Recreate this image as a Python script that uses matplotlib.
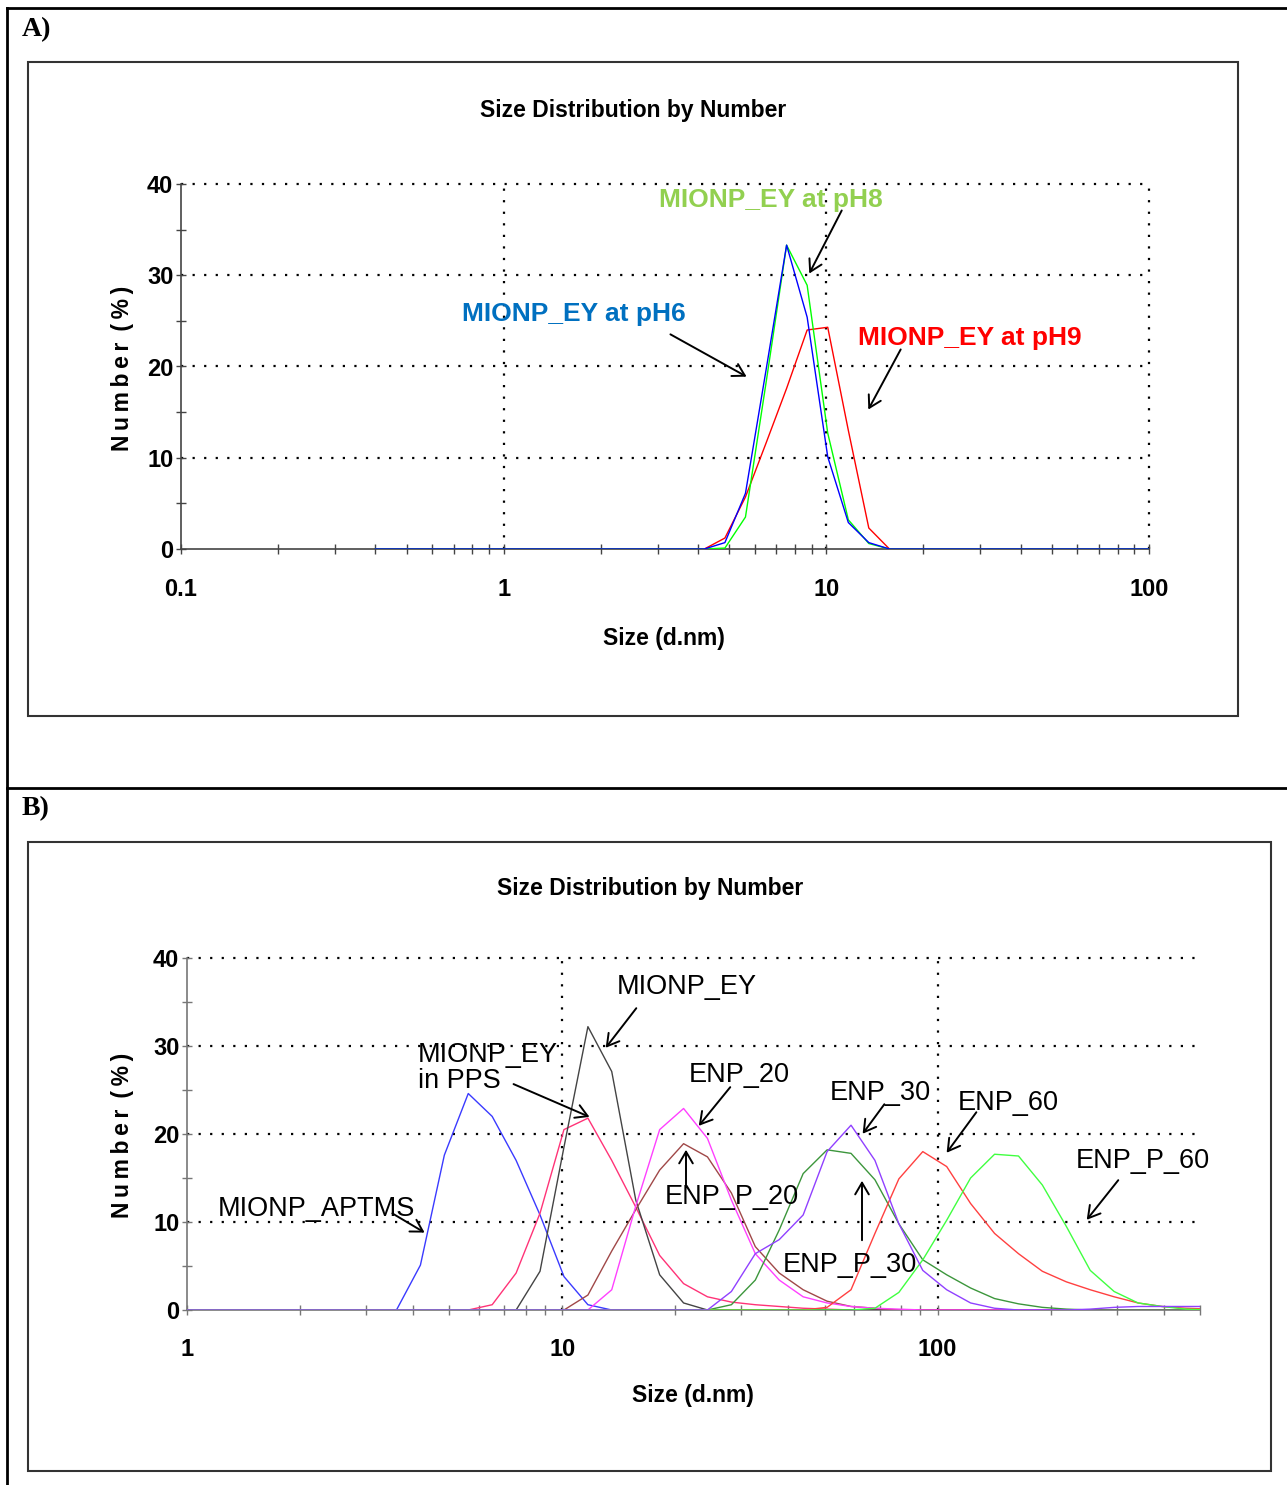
import matplotlib
matplotlib.use("Agg")
import matplotlib.pyplot as plt
from matplotlib.patches import FancyArrowPatch, Rectangle
from matplotlib.lines import Line2D
from matplotlib.ticker import FixedLocator, NullFormatter

# ---------------- data ----------------
# Malvern size bins (d.nm)
sizes = [0.4, 0.4632, 0.5365, 0.6213, 0.7195, 0.8332, 0.9649, 1.117, 1.294, 1.499,
         1.736, 2.010, 2.328, 2.696, 3.122, 3.615, 4.187, 4.849, 5.615, 6.503,
         7.531, 8.721, 10.10, 11.70, 13.54, 15.69, 18.17, 21.04, 24.36, 28.21,
         32.67, 37.84, 43.82, 50.75, 58.77, 68.06, 78.82, 91.28, 105.7, 122.4,
         141.8, 164.2, 190.1, 220.2, 255.0, 295.3, 342.0, 396.1, 458.7, 531.2]

Z17 = [0.0] * 17
# Panel A (bins 0.4 ... 531.2)
a_ph6 = Z17 + [0.7, 6.1, 19.6, 33.3, 25.4, 10.1, 2.9, 0.7] + [0.0] * 25
a_ph8 = Z17 + [0.1, 3.5, 18.2, 33.3, 28.9, 12.7, 3.2, 0.6] + [0.0] * 25
a_ph9 = Z17 + [1.2, 5.7, 11.6, 17.6, 24.0, 24.3, 13.0, 2.3] + [0.0] * 25

# Panel B
b_aptms = [0.0] * 16 + [5.1, 17.6, 24.6, 22.0, 17.0, 10.8, 3.8, 0.6] + [0.0] * 26
b_pps = [0.0] * 19 + [0.6, 4.2, 11.0, 20.5, 21.8, 17.0, 11.7, 6.2, 3.0, 1.5, 0.9,
                      0.6, 0.4, 0.2, 0.1] + [0.0] * 16
b_ey = [0.0] * 21 + [4.4, 18.5, 32.2, 27.1, 12.5, 4.0, 0.8] + [0.0] * 22
b_enp20 = [0.0] * 24 + [2.3, 11.8, 20.5, 22.9, 19.5, 12.5, 6.4, 3.4, 1.5, 0.8,
                        0.4, 0.2, 0.1] + [0.0] * 13
b_enpp20 = [0.0] * 23 + [1.7, 6.7, 11.4, 15.9, 18.9, 17.4, 13.3, 7.2, 4.2, 2.3,
                         1.0, 0.4, 0.2] + [0.0] * 14
b_enp30 = [0.0] * 29 + [2.1, 6.4, 8.0, 10.8, 18.0, 21.0, 17.0, 9.8, 4.5, 2.3,
                        0.8, 0.2, 0.0, 0.0, 0.0, 0.1, 0.3, 0.4, 0.4, 0.4, 0.4]
b_enpp30 = [0.0] * 29 + [0.6, 3.4, 9.1, 15.5, 18.2, 17.8, 14.8, 9.8, 5.7, 4.0,
                         2.5, 1.3, 0.7, 0.3, 0.1] + [0.0] * 6
b_enp60 = [0.0] * 33 + [0.3, 2.3, 8.7, 14.9, 18.0, 16.3, 12.1, 8.7, 6.4, 4.4,
                        3.2, 2.3, 1.5, 0.8, 0.4, 0.2, 0.1]
b_enpp60 = [0.0] * 35 + [0.2, 2.0, 5.7, 10.2, 15.0, 17.7, 17.5, 14.2, 9.5, 4.5,
                         2.1, 0.8, 0.4, 0.1, 0.0]

a_series = [(a_ph9, "#ff0000"), (a_ph8, "#00ff00"), (a_ph6, "#0000ff")]
b_series = [(b_aptms, "#3a3aff"), (b_pps, "#ff3377"), (b_ey, "#444444"),
            (b_enpp20, "#a04848"), (b_enp20, "#ff40ff"), (b_enpp30, "#3c963c"),
            (b_enp60, "#ff4040"), (b_enpp60, "#40ff40"), (b_enp30, "#9040ff")]

yticks = [0, 10, 20, 30, 40]

# ---------------- figure ----------------
W, H = 1287, 1485
fig = plt.figure(figsize=(W / 100, H / 100), dpi=100)
fig.patch.set_facecolor("white")
SANS = ["Liberation Sans", "DejaVu Sans"]
SERIF = ["Liberation Serif", "DejaVu Serif"]
DY = 2.5  # vertical text correction (px)


def fx(x):
    return x / W


def fy(y):
    return 1 - y / H


def ftext(x, y, s, **kw):
    kw.setdefault("family", SANS)
    fig.text(fx(x), fy(y + DY), s, **kw)


def arrow(x0, y0, x1, y1):
    fig.add_artist(FancyArrowPatch((fx(x0), fy(y0)), (fx(x1), fy(y1)),
                                   transform=fig.transFigure,
                                   arrowstyle="->,head_length=0.6,head_width=0.35",
                                   mutation_scale=14, lw=1.4, color="black"))


# outer table lines
for (xs, ys) in [((7, 7), (8, 1485)), ((7, 1287), (8, 8)), ((7, 1287), (788, 788))]:
    fig.add_artist(Line2D([fx(v) for v in xs], [fy(v) for v in ys],
                          transform=fig.transFigure, color="black", lw=2.0))

# inner frames
for (x0, y0, x1, y1) in [(28, 62, 1238, 716), (28, 842, 1271, 1471)]:
    fig.add_artist(Rectangle((fx(x0), fy(y1)), (x1 - x0) / W, (y1 - y0) / H,
                             transform=fig.transFigure, fill=False,
                             edgecolor="#333333", lw=1.5))

ftext(22, 27, "A)", family=SERIF, fontweight="bold", fontsize=20, va="center")
ftext(22, 806, "B)", family=SERIF, fontweight="bold", fontsize=20, va="center")


def setup_axes(rect_px, xlim, xmajor, xlabels, xminor, vgrid, spine_col, xpad):
    l, t, r, b = rect_px
    ax = fig.add_axes([fx(l), fy(b), (r - l) / W, (b - t) / H])
    ax.set_xscale("log")
    ax.set_xlim(*xlim)
    ax.set_ylim(0, 40)
    ax.set_facecolor("none")
    for s in ("top", "right"):
        ax.spines[s].set_visible(False)
    for s in ("left", "bottom"):
        ax.spines[s].set_color(spine_col)
        ax.spines[s].set_linewidth(1.2)
    ax.xaxis.set_major_locator(FixedLocator(xmajor))
    ax.set_xticklabels(xlabels)
    ax.xaxis.set_minor_locator(FixedLocator(xminor))
    ax.xaxis.set_minor_formatter(NullFormatter())
    ax.yaxis.set_major_locator(FixedLocator(yticks))
    ax.set_yticklabels([str(v) for v in yticks])
    ax.yaxis.set_minor_locator(FixedLocator([5, 15, 25, 35]))
    ax.tick_params(axis="both", which="both", direction="inout", length=7,
                   width=1.0, color=spine_col)
    ax.tick_params(axis="x", which="major", pad=xpad)
    ax.tick_params(axis="y", which="major", pad=2)
    for lab in ax.get_xticklabels() + ax.get_yticklabels():
        lab.set_fontfamily(SANS)
        lab.set_fontweight("bold")
        lab.set_fontsize(17)
    dot = dict(color="black", lw=1.6, linestyle=(0, (1, 4.2)), zorder=1, clip_on=False)
    for v in [10, 20, 30, 40]:
        ax.axhline(v, **dot)
    for v in vgrid:
        ax.axvline(v, **dot)
    return ax


minorA = [k * 10.0 ** e for e in (-1, 0, 1) for k in range(2, 10)]
axA = setup_axes((181, 184, 1149, 549), (0.1, 100), [0.1, 1, 10, 100],
                 ["0.1", "1", "10", "100"], minorA, [1, 10, 100], "#444444", 17.5)
for ys, c in a_series:
    axA.plot(sizes, ys, color=c, lw=1.0, zorder=3)

minorB = [k * 10.0 ** e for e in (0, 1) for k in range(2, 10)] + [200, 300, 400, 500]
axB = setup_axes((187, 958, 1200, 1310), (1, 500), [1, 10, 100],
                 ["1", "10", "100"], minorB, [10, 100], "#777777", 16.5)
for ys, c in b_series:
    axB.plot(sizes, ys, color=c, lw=1.0, zorder=3)

# titles & axis labels
ylab = "N\u2009u\u2009m\u2009b\u2009e\u2009r\u2009 (\u2009%\u2009)"
ftext(633, 108, "Size Distribution by Number", fontweight="bold", fontsize=16.5,
      ha="center", va="center")
ftext(664, 636, "Size (d.nm)", fontweight="bold", fontsize=16.5, ha="center", va="center")
fig.text(fx(122), fy(368), ylab, family=SANS, fontweight="bold", fontsize=16.5,
         ha="center", va="center", rotation=90)

ftext(650, 886, "Size Distribution by Number", fontweight="bold", fontsize=16.5,
      ha="center", va="center")
ftext(693, 1393, "Size (d.nm)", fontweight="bold", fontsize=16.5, ha="center", va="center")
fig.text(fx(123), fy(1135), ylab, family=SANS, fontweight="bold", fontsize=16.5,
         ha="center", va="center", rotation=90)

# panel A annotations
ftext(659, 197, "MIONP_EY at pH8", color="#92d050", fontweight="bold", fontsize=19, va="center")
ftext(462, 312, "MIONP_EY at pH6", color="#0070c0", fontweight="bold", fontsize=19, va="center")
ftext(858, 335, "MIONP_EY at pH9", color="#ff0000", fontweight="bold", fontsize=19, va="center")
arrow(843, 208, 808, 276)
arrow(668, 333, 749, 378)
arrow(902, 347, 867, 412)

# panel B annotations
bkw = dict(fontsize=19.5, va="center", color="black")
ftext(617, 985, "MIONP_EY", **bkw)
ftext(418, 1052, "MIONP_EY", **bkw)
ftext(418, 1079, "in PPS", **bkw)
ftext(689, 1072, "ENP_20", **bkw)
ftext(665, 1195, "ENP_P_20", **bkw)
ftext(830, 1090, "ENP_30", **bkw)
ftext(958, 1100, "ENP_60", **bkw)
ftext(1076, 1158, "ENP_P_60", **bkw)
ftext(783, 1263, "ENP_P_30", **bkw)
ftext(218, 1206, "MIONP_APTMS", **bkw)
arrow(638, 1006, 604, 1050)
arrow(511, 1083, 592, 1118)
arrow(732, 1085, 697, 1128)
arrow(686, 1190, 686, 1147)
arrow(886, 1102, 861, 1136)
arrow(978, 1110, 945, 1155)
arrow(1120, 1178, 1085, 1222)
arrow(862, 1243, 862, 1178)
arrow(390, 1212, 427, 1234)

fig.savefig("out.png", dpi=100, facecolor="white")
